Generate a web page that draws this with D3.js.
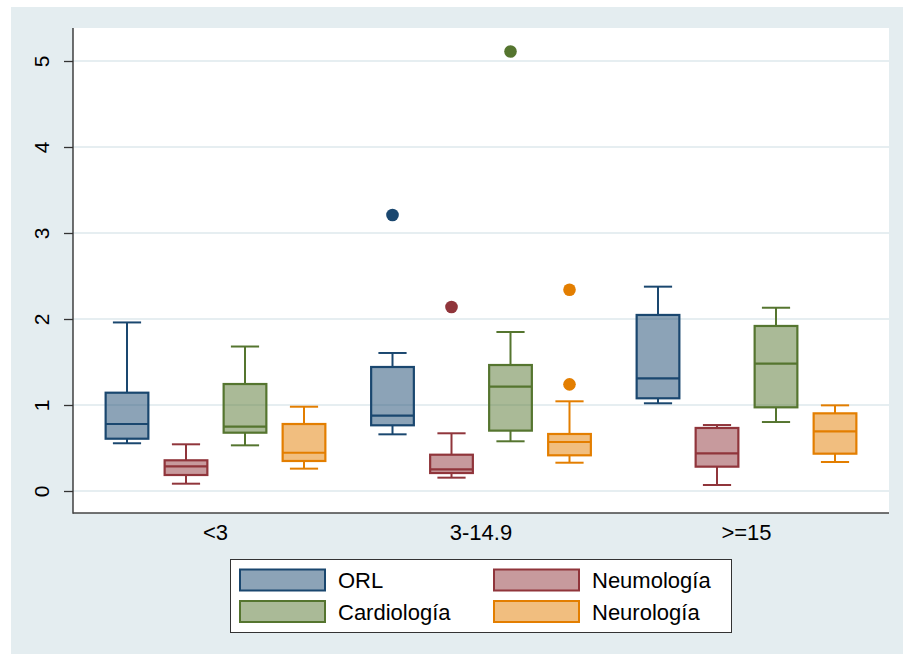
<!DOCTYPE html>
<html>
<head>
<meta charset="utf-8">
<script src="https://cdn.jsdelivr.net/npm/d3@7"></script>
<style>
  html, body { margin: 0; padding: 0; background: #ffffff; }
  svg { display: block; }
  text { font-family: "Liberation Sans", Arial, Helvetica, sans-serif; fill: #000; }
</style>
</head>
<body>
<div id="chart"></div>
<script>
// Age groups on the x axis and the four services drawn inside each group
const groups = ["<3", "3-14.9", ">=15"];
const services = ["ORL", "Neumología", "Cardiología", "Neurología"];
const yTicks = [0, 1, 2, 3, 4, 5];

// Box statistics per age group: [lower whisker, Q1, median, Q3, upper whisker]
const orlStats = [
  [0.555, 0.608, 0.779, 1.143, 1.96],
  [0.659, 0.764, 0.876, 1.442, 1.605],
  [1.02, 1.078, 1.31, 2.047, 2.376]
];
const neumoStats = [
  [0.085, 0.186, 0.287, 0.357, 0.543],
  [0.155, 0.209, 0.252, 0.422, 0.671],
  [0.07, 0.283, 0.438, 0.733, 0.767]
];
const cardioStats = [
  [0.531, 0.678, 0.748, 1.244, 1.68],
  [0.578, 0.702, 1.213, 1.465, 1.849],
  [0.802, 0.973, 1.48, 1.919, 2.131]
];
const neuroStats = [
  [0.26, 0.349, 0.445, 0.779, 0.98],
  [0.329, 0.415, 0.570, 0.663, 1.043],
  [0.337, 0.434, 0.694, 0.903, 0.996]
];

// Outside values: service, age group, value
const outlierService = ["ORL", "Neumología", "Cardiología", "Neurología", "Neurología"];
const outlierGroup   = ["3-14.9", "3-14.9", "3-14.9", "3-14.9", "3-14.9"];
const outlierValue   = [3.21, 2.14, 5.11, 1.24, 2.34];

const statsBySeries = [orlStats, neumoStats, cardioStats, neuroStats];
const strokeColors = ["#1a476f", "#90353b", "#55752f", "#e37e00"];

const W = 910, H = 654;
const plot = { left: 73, right: 889, top: 28, bottom: 513 };

const svg = d3.select("#chart").append("svg")
  .attr("width", W).attr("height", H);

// Outer graph region
svg.append("rect")
  .attr("x", 11).attr("y", 7).attr("width", 892).attr("height", H - 7)
  .attr("fill", "#e4edf0");

// Plot region
svg.append("rect")
  .attr("x", plot.left).attr("y", plot.top)
  .attr("width", plot.right - plot.left).attr("height", plot.bottom - plot.top)
  .attr("fill", "#ffffff");

const x0 = d3.scaleBand().domain(groups)
  .range([plot.left, plot.right])
  .paddingInner(0).paddingOuter(0.0367);

const x1 = d3.scaleBand().domain(services)
  .range([0, x0.bandwidth()])
  .paddingInner(0.276).paddingOuter(0.388);

const y = d3.scaleLinear().domain([0, 5]).range([491, 61]);
const color = d3.scaleOrdinal().domain(services).range(strokeColors);

// Horizontal grid lines
svg.append("g").selectAll("line").data(yTicks).join("line")
  .attr("x1", plot.left).attr("x2", plot.right)
  .attr("y1", d => y(d)).attr("y2", d => y(d))
  .attr("stroke", "#e6eef1").attr("stroke-width", 2);

// Y axis
const yAxis = svg.append("g")
  .attr("transform", `translate(${plot.left},0)`)
  .call(d3.axisLeft(y).tickValues(yTicks).tickSize(9).tickPadding(0).tickFormat(d3.format("d")));
yAxis.select(".domain").remove();
yAxis.selectAll(".tick line").attr("stroke", "#333").attr("stroke-width", 1.3);
yAxis.selectAll(".tick text")
  .attr("font-size", 21)
  .attr("text-anchor", "middle")
  .attr("dy", null)
  .attr("x", null)
  .attr("transform", "translate(-32,0) rotate(-90)")
  .attr("dominant-baseline", "central");

// X axis labels
const xAxis = svg.append("g")
  .attr("transform", `translate(0,${plot.bottom})`)
  .call(d3.axisBottom(x0).tickSize(0).tickPadding(11.5));
xAxis.select(".domain").remove();
xAxis.selectAll(".tick text").attr("font-size", 22);

// Axis lines
svg.append("line")
  .attr("x1", plot.left).attr("x2", plot.left)
  .attr("y1", plot.top).attr("y2", plot.bottom + 0.7)
  .attr("stroke", "#333").attr("stroke-width", 1.4);
svg.append("line")
  .attr("x1", plot.left).attr("x2", plot.right)
  .attr("y1", plot.bottom).attr("y2", plot.bottom)
  .attr("stroke", "#444").attr("stroke-width", 1.6);

// Boxes
const boxRows = [];
services.forEach((s, si) => {
  groups.forEach((g, gi) => {
    const v = statsBySeries[si][gi];
    boxRows.push({ service: s, group: g, lo: v[0], q1: v[1], med: v[2], q3: v[3], hi: v[4] });
  });
});

const bw = x1.bandwidth();
const capW = bw * 0.66;
const boxG = svg.append("g").selectAll("g").data(boxRows).join("g")
  .attr("transform", d => `translate(${x0(d.group) + x1(d.service)},0)`);

// Whiskers
boxG.append("line")
  .attr("x1", bw / 2).attr("x2", bw / 2)
  .attr("y1", d => y(d.hi)).attr("y2", d => y(d.q3))
  .attr("stroke", d => color(d.service)).attr("stroke-width", 2);
boxG.append("line")
  .attr("x1", bw / 2).attr("x2", bw / 2)
  .attr("y1", d => y(d.q1)).attr("y2", d => y(d.lo))
  .attr("stroke", d => color(d.service)).attr("stroke-width", 2);
// Caps
boxG.append("line")
  .attr("x1", (bw - capW) / 2).attr("x2", (bw + capW) / 2)
  .attr("y1", d => y(d.hi)).attr("y2", d => y(d.hi))
  .attr("stroke", d => color(d.service)).attr("stroke-width", 2);
boxG.append("line")
  .attr("x1", (bw - capW) / 2).attr("x2", (bw + capW) / 2)
  .attr("y1", d => y(d.lo)).attr("y2", d => y(d.lo))
  .attr("stroke", d => color(d.service)).attr("stroke-width", 2);
// Box body
boxG.append("rect")
  .attr("x", 0).attr("width", bw)
  .attr("y", d => y(d.q3)).attr("height", d => y(d.q1) - y(d.q3))
  .attr("fill", d => color(d.service)).attr("fill-opacity", 0.5)
  .attr("stroke", d => color(d.service)).attr("stroke-width", 2.2);
// Median
boxG.append("line")
  .attr("x1", 0).attr("x2", bw)
  .attr("y1", d => y(d.med)).attr("y2", d => y(d.med))
  .attr("stroke", d => color(d.service)).attr("stroke-width", 2.2);

// Outside values
svg.append("g").selectAll("circle").data(outlierValue.map((v, i) => ({
    service: outlierService[i], group: outlierGroup[i], value: v })))
  .join("circle")
  .attr("cx", d => x0(d.group) + x1(d.service) + bw / 2)
  .attr("cy", d => y(d.value))
  .attr("r", 6.3)
  .attr("fill", d => color(d.service));

// Legend
const legend = svg.append("g");
legend.append("rect")
  .attr("x", 230.5).attr("y", 559.5).attr("width", 501).attr("height", 73)
  .attr("fill", "#ffffff").attr("stroke", "#333").attr("stroke-width", 1);

const legendOrder = ["ORL", "Neumología", "Cardiología", "Neurología"];
const legendItem = legend.selectAll("g.item").data(legendOrder).join("g")
  .attr("class", "item")
  .attr("transform", (d, i) => `translate(${i % 2 === 0 ? 240 : 494},${i < 2 ? 569.5 : 601})`);
legendItem.append("rect")
  .attr("x", 0).attr("y", 0).attr("width", 85).attr("height", 21)
  .attr("fill", d => color(d)).attr("fill-opacity", 0.5)
  .attr("stroke", d => color(d)).attr("stroke-width", 2);
legendItem.append("text")
  .attr("x", 98).attr("y", 18.8)
  .attr("font-size", 22)
  .text(d => d);
</script>
</body>
</html>
